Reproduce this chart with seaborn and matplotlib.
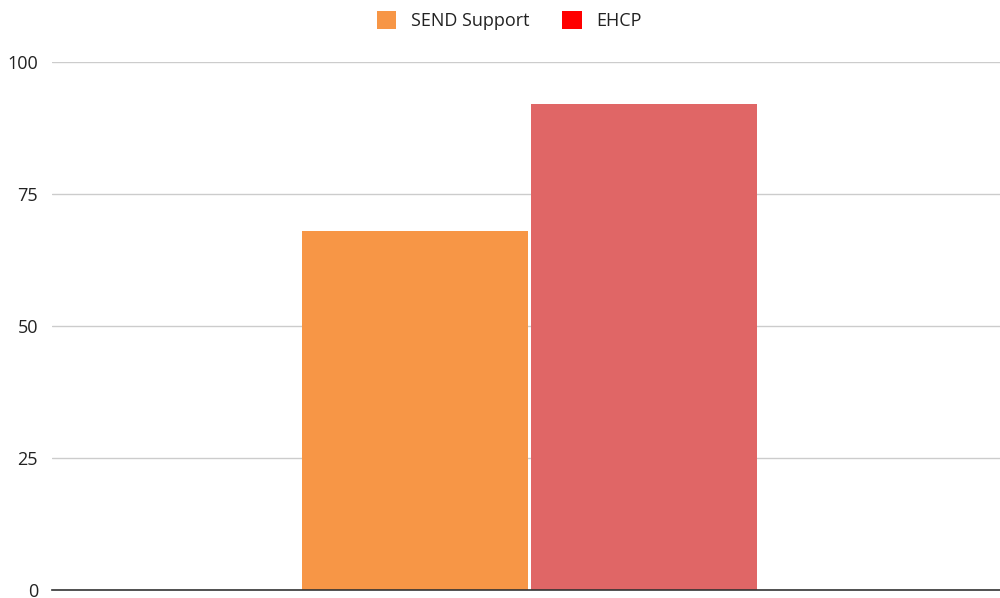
import matplotlib
matplotlib.use("Agg")
import matplotlib.pyplot as plt
import seaborn as sns
import pandas as pd
from matplotlib.patches import Patch

# data
categories = [""]
series = ["SEND Support", "EHCP"]
values = [68, 92]
bar_colors = ["#F79646", "#E06666"]
legend_colors = ["#F79646", "#FF0000"]
y_ticks = [0, 25, 50, 75, 100]

sns.set_theme(style="white")
plt.rcParams["font.family"] = ["Open Sans", "DejaVu Sans"]

df = pd.DataFrame({"cat": categories * len(series), "series": series, "value": values})

fig = plt.figure(figsize=(10, 5.98), dpi=100)
ax = fig.add_axes([0.052, 0.0134, 0.948, 0.8829])

sns.barplot(data=df, x="cat", y="value", hue="series", palette=bar_colors,
            width=0.97, gap=0.017, saturation=1, ax=ax, legend=False,
            edgecolor="none")

ax.set_xlim(-1.0074, 0.9926)
ax.set_ylim(0, 100)
ax.set_yticks(y_ticks)
ax.set_yticklabels([str(t) for t in y_ticks], fontsize=13, color="#222222")
ax.set_xticks([])
ax.set_xlabel("")
ax.set_ylabel("")
ax.tick_params(axis="y", length=0, pad=10)
ax.yaxis.grid(True, color="#CCCCCC", linewidth=1)
ax.set_axisbelow(True)
for s in ["top", "right", "left"]:
    ax.spines[s].set_visible(False)
ax.spines["bottom"].set_color("#333333")
ax.spines["bottom"].set_linewidth(1.2)

handles = [Patch(facecolor=c, edgecolor="none", label=s) for s, c in zip(series, legend_colors)]
fig.legend(handles=handles, loc="upper center", bbox_to_anchor=(0.509, 1.008), ncol=2,
           frameon=False, fontsize=13, handlelength=1.1, handleheight=1.1,
           handletextpad=0.8, columnspacing=1.8, labelcolor="#222222")

fig.savefig("out.png", dpi=100)
